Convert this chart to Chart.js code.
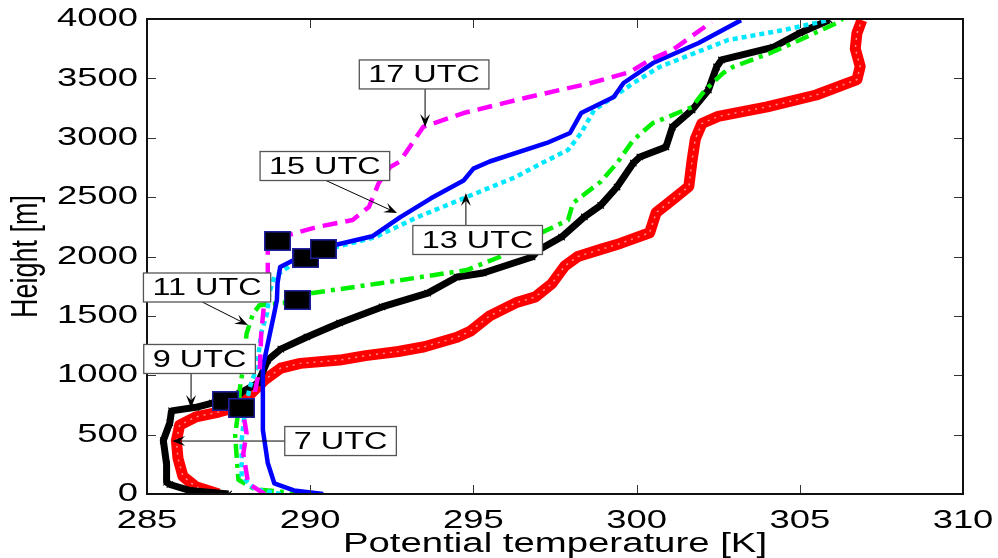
<!DOCTYPE html>
<html><head><meta charset="utf-8">
<script src="https://cdn.jsdelivr.net/npm/chart.js@4/dist/chart.umd.min.js"></script>
<style>html,body{margin:0;padding:0;background:#fff;}canvas{display:block;}</style>
</head><body>
<canvas id="c" width="998" height="558"></canvas>
<script>
// ---- data (potential temperature [K] vs height [m]) ----
const theta07 = [287.2,286.5,286.1,285.95,285.9,286.0,286.5,287.2,287.6,288.2,288.6,289.1,289.7,290.9,291.7,292.7,293.5,294.5,294.9,295.5,296.3,296.9,297.4,297.8,298.2,298.9,299.5,300.4,300.6,301.2,301.6,301.7,301.8,302.0,302.5,304.0,305.5,306.75,306.85,306.7,306.75,306.9];
const height07 = [0,60,150,300,450,580,650,690,720,850,960,1060,1100,1128,1165,1200,1240,1320,1370,1500,1610,1660,1770,1920,2000,2060,2110,2200,2370,2500,2590,2810,2990,3120,3180,3260,3360,3490,3600,3750,3880,3990];

const theta09 = [287.5,286.3,285.7,285.6,285.6,285.5,285.7,285.75,286.5,287.0,287.85,288.4,288.7,289.1,289.9,290.9,292.2,293.6,294.5,295.3,296.8,297.0,297.7,298.4,298.9,299.4,299.9,300.1,300.9,301.1,301.7,302.2,302.45,302.6,304.2,305.0,305.9];
const height09 = [0,30,80,100,250,450,600,700,730,766,850,935,1128,1220,1322,1440,1575,1692,1827,1861,1996,2055,2164,2333,2430,2585,2787,2838,2922,3091,3234,3402,3596,3655,3764,3882,3992];

const theta11 = [289.8,288.3,287.8,287.75,287.7,287.8,287.85,287.95,288.05,288.25,288.45,289.2,290.0,292.2,294.8,295.8,296.8,297.9,298.05,298.9,299.4,299.9,300.5,301.7,302.1,302.65,302.95,304.1,305.0,306.2,306.3];
const height11 = [0,40,120,300,500,700,900,1070,1350,1520,1590,1610,1690,1777,1886,1996,2164,2307,2450,2630,2787,2981,3124,3259,3402,3545,3596,3714,3823,3975,4000];

const theta13 = [289.1,288.3,287.9,287.9,288.0,288.15,288.37,288.5,288.68,288.75,288.9,289.2,289.5,290.8,292.0,293.3,294.8,296.3,297.1,297.9,298.3,298.7,299.6,299.9,300.7,302.8,304.5,305.9];
const height13 = [0,40,150,450,700,900,1070,1356,1524,1700,1827,1886,1945,2080,2164,2333,2501,2670,2787,2897,3040,3234,3402,3461,3596,3823,3907,3992];

const theta15 = [290.4,289.5,288.9,288.7,288.55,288.55,288.55,288.77,288.9,288.98,289.0,289.08,289.5,289.9,290.5,291.9,292.75,293.7,294.7,295.0,295.5,297.25,297.96,298.3,299.3,299.6,300.5,301.9,303.2];
const height15 = [0,30,90,261,540,766,1070,1356,1524,1634,1777,1912,1970,2040,2080,2170,2330,2490,2640,2740,2800,2956,3040,3208,3343,3461,3629,3798,3990];

const theta17 = [288.6,288.1,287.95,288.05,287.95,288.15,288.3,288.46,288.5,288.6,288.7,288.7,288.8,290.2,291.3,291.8,292.1,292.45,292.75,293.46,294.7,296.7,298.6,299.8,300.4,301.1,302.3];
const height17 = [0,90,340,510,680,790,850,1070,1356,1634,1777,2055,2140,2248,2307,2417,2619,2754,2800,3091,3208,3343,3461,3554,3655,3739,3975];

// boundary-layer top markers (black squares)
const squareTheta  = [289.0,289.87,290.4,289.6,287.4,287.9];
const squareHeight = [2131,1987,2063,1634,783,724];

// axis ticks
const xTickValues = [285,290,295,300,305,310];
const yTickValues = [0,500,1000,1500,2000,2500,3000,3500,4000];
const xTitle = 'Potential temperature [K]';
const yTitle = 'Height [m]';

// text labels with arrows: [text, box centre (K,m), arrow start (K,m), arrow tip (K,m)]
const annotationText = ['17 UTC','15 UTC','13 UTC','11 UTC','9 UTC','7 UTC'];
const annotationBox  = [[293.49,3533],[290.45,2762],[295.13,2139],[286.84,1739],[286.61,1137],[290.93,446]];
const annotationFrom = [[293.52,3410],[290.45,2644],[294.77,2265],[286.69,1617],[286.35,1019],[289.32,446]];
const annotationTo   = [[293.52,3091],[292.66,2366],[294.77,2535],[288.09,1423],[286.35,724],[285.77,446]];

const zip = (t,h) => t.map((v,i)=>({x:v,y:h[i]}));

// square marker image
const sq = document.createElement('canvas');
sq.width = 27; sq.height = 20;
(function(){const g=sq.getContext('2d');g.fillStyle='#000';g.fillRect(0,0,27,20);g.strokeStyle='#2020a0';g.lineWidth=1.5;g.strokeRect(0.75,0.75,25.5,18.5);})();

const FONT = "'Liberation Sans', Arial, Helvetica, sans-serif";

function sText(ctx, text, x, y, size, sx, align, rot){
  ctx.save();
  ctx.translate(x,y);
  ctx.scale(sx,1);
  if(rot) ctx.rotate(rot);
  ctx.font = size+'px '+FONT;
  ctx.textAlign = align; ctx.textBaseline='middle';
  ctx.fillStyle='#000';
  ctx.fillText(text,0,0);
  ctx.restore();
}

const decor = {
  id:'decor',
  afterDraw(chart){
    const ctx=chart.ctx, ca=chart.chartArea, xs=chart.scales.x, ys=chart.scales.y;
    ctx.save();
    // ticks (inward, all four sides)
    ctx.strokeStyle='#333'; ctx.lineWidth=1;
    xs.ticks.forEach(t=>{const p=Math.round(xs.getPixelForValue(t.value))+0.5;
      ctx.beginPath();ctx.moveTo(p,ca.bottom);ctx.lineTo(p,ca.bottom-9);ctx.moveTo(p,ca.top);ctx.lineTo(p,ca.top+9);ctx.stroke();});
    ys.ticks.forEach(t=>{const p=Math.round(ys.getPixelForValue(t.value))+0.5;
      ctx.beginPath();ctx.moveTo(ca.left,p);ctx.lineTo(ca.left+9,p);ctx.moveTo(ca.right,p);ctx.lineTo(ca.right-9,p);ctx.stroke();});
    // box
    ctx.strokeStyle='#111'; ctx.lineWidth=2;
    ctx.strokeRect(ca.left,ca.top,ca.right-ca.left,ca.bottom-ca.top);
    // tick labels
    xs.ticks.forEach(t=>sText(ctx,String(t.value),xs.getPixelForValue(t.value),ca.bottom+27,26,1.4,'center'));
    ys.ticks.forEach(t=>sText(ctx,String(t.value),ca.left-9,ys.getPixelForValue(t.value),26,1.4,'right'));
    // titles
    sText(ctx,xTitle,(ca.left+ca.right)/2,ca.bottom+51,27,1.42,'center');
    sText(ctx,yTitle,27,(ca.top+ca.bottom)/2,27,1.35,'center',-Math.PI/2);
    // annotations
    annotationText.forEach((txt,i)=>{
      const fx=xs.getPixelForValue(annotationFrom[i][0]), fy=ys.getPixelForValue(annotationFrom[i][1]);
      const tx=xs.getPixelForValue(annotationTo[i][0]), ty=ys.getPixelForValue(annotationTo[i][1]);
      const dx=tx-fx, dy=ty-fy, len=Math.hypot(dx,dy), ux=dx/len, uy=dy/len, nx=-uy, ny=ux;
      const L=13, W=5;
      ctx.strokeStyle='#000'; ctx.lineWidth=1;
      ctx.beginPath(); ctx.moveTo(fx,fy); ctx.lineTo(tx-ux*L*0.6,ty-uy*L*0.6); ctx.stroke();
      ctx.fillStyle='#000'; ctx.beginPath();
      ctx.moveTo(tx,ty); ctx.lineTo(tx-ux*L+nx*W,ty-uy*L+ny*W); ctx.lineTo(tx-ux*L*0.6,ty-uy*L*0.6);
      ctx.lineTo(tx-ux*L-nx*W,ty-uy*L-ny*W); ctx.closePath(); ctx.fill();
      // box
      const bx=xs.getPixelForValue(annotationBox[i][0]), by=ys.getPixelForValue(annotationBox[i][1]);
      ctx.font='24px '+FONT;
      const w=ctx.measureText(txt).width*1.35+18, h=29;
      ctx.fillStyle='#fff'; ctx.fillRect(bx-w/2,by-h/2,w,h);
      ctx.strokeStyle='#555'; ctx.lineWidth=1.3; ctx.strokeRect(bx-w/2,by-h/2,w,h);
      sText(ctx,txt,bx,by+1,24,1.35,'center');
    });
    ctx.restore();
  }
};

const lineBase = {showLine:true, pointRadius:0, fill:false, tension:0, borderCapStyle:'butt', borderJoinStyle:'round'};

new Chart(document.getElementById('c'), {
  type:'scatter',
  data:{datasets:[
    {label:'BL top', data:zip(squareTheta,squareHeight), showLine:false, pointStyle:sq, pointRadius:13},
    Object.assign({label:'17 UTC', data:zip(theta17,height17), borderColor:'#ff00ff', borderWidth:4.5, borderDash:[15,8]}, lineBase),
    Object.assign({label:'15 UTC', data:zip(theta15,height15), borderColor:'#0000ff', borderWidth:4.5}, lineBase),
    Object.assign({label:'13 UTC', data:zip(theta13,height13), borderColor:'#00e8ff', borderWidth:4.5, borderDash:[5,4]}, lineBase),
    Object.assign({label:'11 UTC', data:zip(theta11,height11), borderColor:'#00f000', borderWidth:4.5, borderDash:[14,6,4,6]}, lineBase),
    Object.assign({label:'9 UTC', data:zip(theta09,height09), borderColor:'#000', borderWidth:7, pointStyle:'crossRot', pointBorderColor:'#000', pointBorderWidth:1.2}, lineBase, {pointRadius:4.5}),
    Object.assign({label:'7 UTC texture', data:zip(theta07,height07), borderColor:'rgba(255,255,255,0.55)', borderWidth:1.5, borderDash:[2,5]}, lineBase),
    Object.assign({label:'7 UTC', data:zip(theta07,height07), borderColor:'#ff0000', borderWidth:11}, lineBase)
  ]},
  options:{
    responsive:false, animation:false, devicePixelRatio:1,
    layout:{padding:{left:147,right:35,top:19,bottom:64}},
    plugins:{legend:{display:false}, tooltip:{enabled:false}},
    scales:{
      x:{type:'linear', min:285, max:310,
         afterBuildTicks:s=>{s.ticks=xTickValues.map(v=>({value:v}));},
         ticks:{display:false}, grid:{display:false}, border:{display:false},
         afterFit:s=>{s.height=0;}},
      y:{type:'linear', min:0, max:4000,
         afterBuildTicks:s=>{s.ticks=yTickValues.map(v=>({value:v}));},
         ticks:{display:false}, grid:{display:false}, border:{display:false},
         afterFit:s=>{s.width=0;}}
    }
  },
  plugins:[decor]
});
</script>
</body></html>
